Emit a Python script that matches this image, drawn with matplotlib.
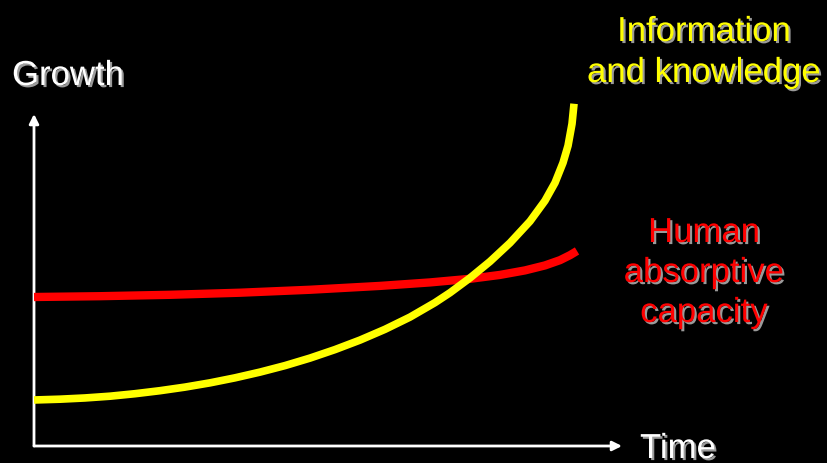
import matplotlib
matplotlib.use("Agg")
import matplotlib.pyplot as plt
import matplotlib.patheffects as pe

# Data (arbitrary units: time 0-100, growth 0-100)
info_time = [0, 4.42, 8.67, 12.93, 17.18, 21.43, 25.68, 29.93, 34.18, 38.44, 42.69,
             46.94, 51.19, 55.44, 59.69, 63.95, 68.20, 70.75, 74.15, 77.55, 80.95,
             84.35, 86.90, 88.61, 89.97, 90.82, 91.50, 91.84]
info_growth = [13.86, 14.10, 14.47, 15.00, 15.75, 16.66, 17.74, 19.02, 20.53, 22.26, 24.22,
               26.48, 29.04, 31.90, 35.14, 38.83, 43.19, 46.17, 50.63, 55.57, 61.17,
               67.68, 73.87, 79.29, 85.32, 90.44, 97.06, 103.09]

human_time = [0, 11.22, 23.13, 35.03, 46.94, 58.84, 67.35, 74.15, 79.25, 83.50,
              86.90, 89.46, 91.16, 92.35]
human_growth = [44.88, 45.12, 45.54, 46.17, 47.06, 48.22, 49.27, 50.36, 51.53, 52.89,
                54.39, 55.98, 57.48, 58.75]

y_label = "Growth"
x_label = "Time"
info_label = ["Information", "and knowledge"]
human_label = ["Human", "absorptive", "capacity"]

W, H = 827, 464
fig = plt.figure(figsize=(W / 100, H / 100), dpi=100, facecolor="black")
ox, oy = 34, 447
ax = fig.add_axes([ox / W, (H - oy) / H, 588 / W, 332 / H])
ax.set_facecolor("black")
ax.set_xlim(0, 100)
ax.set_ylim(0, 100)
ax.axis("off")

# axes arrows
arrow = dict(arrowstyle="-|>", color="white", lw=2, mutation_scale=14, shrinkA=0, shrinkB=0)
ax.annotate("", xy=(0, 100), xytext=(0, 0), arrowprops=arrow, annotation_clip=False)
ax.annotate("", xy=(100, 0), xytext=(0, 0), arrowprops=arrow, annotation_clip=False)

ax.plot(human_time, human_growth, color="#ff0000", lw=6, solid_capstyle="butt",
        solid_joinstyle="round", clip_on=False, zorder=3)
ax.plot(info_time, info_growth, color="#ffff00", lw=5.5, solid_capstyle="butt",
        solid_joinstyle="round", clip_on=False, zorder=4)

def shadow(c="#9a9a9a"):
    return [pe.withSimplePatchShadow(offset=(1.5, -1.5), shadow_rgbFace=c, alpha=1.0)]

fs = 25
fam = ["Liberation Sans", "DejaVu Sans"]

def ptext(px, py, s, color, ha="left"):
    fig.text(px / W, 1 - py / H, s, color=color, fontsize=fs, family=fam,
             ha=ha, va="baseline", path_effects=shadow())

ptext(12, 86, y_label, "white")
ptext(640, 459, x_label, "white")
for s, py in zip(info_label, [42, 83]):
    ptext(704, py, s, "#ffff00", ha="center")
for s, py in zip(human_label, [243, 283, 323]):
    ptext(704, py, s, "#ff0000", ha="center")

fig.savefig("out.png", dpi=100, facecolor="black")
